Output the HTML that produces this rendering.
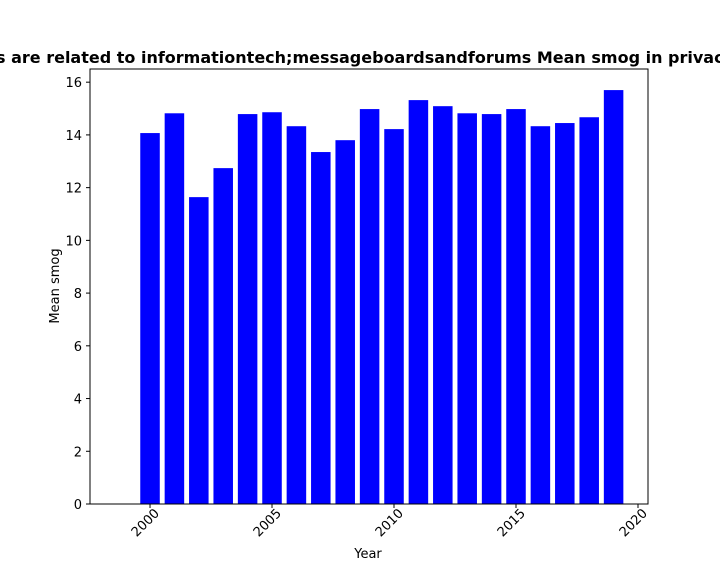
<!DOCTYPE html>
<html><head><meta charset="utf-8"><style>
html,body{margin:0;padding:0;background:#fff;width:720px;height:576px;overflow:hidden}
svg text{font-family:"DejaVu Sans","Liberation Sans",sans-serif;fill:#000}
</style></head><body>
<svg id="chart" width="720" height="576" xmlns="http://www.w3.org/2000/svg">
<text x="-4" y="63" font-size="16" font-weight="bold">s are related to informationtech;messageboardsandforums Mean smog in privac</text>
<g id="bars"></g>
<rect x="90" y="69" width="558" height="435" fill="none" stroke="#000" stroke-width="1"/>
<g id="axes"></g>
<text x="368" y="558" font-size="13" text-anchor="middle">Year</text>
<text transform="translate(59,286) rotate(-90)" font-size="13" text-anchor="middle">Mean smog</text>
</svg>
<script>
const years=[2000,2001,2002,2003,2004,2005,2006,2007,2008,2009,2010,2011,2012,2013,2014,2015,2016,2017,2018,2019];
const values=[14.07,14.82,11.64,12.74,14.79,14.86,14.33,13.35,13.80,14.98,14.22,15.32,15.09,14.82,14.79,14.98,14.33,14.45,14.67,15.70];
const yTicks=[0,2,4,6,8,10,12,14,16];
const xTicks=[2000,2005,2010,2015,2020];
const NS="http://www.w3.org/2000/svg";
const xMin=1997.54,xMax=2020.41,yMin=0,yMax=16.5;
const X=v=>90+(v-xMin)/(xMax-xMin)*558;
const Y=v=>504-(v-yMin)/(yMax-yMin)*435;
const bars=document.getElementById('bars'),axes=document.getElementById('axes');
years.forEach((yr,i)=>{
 const r=document.createElementNS(NS,'rect');
 const x0=X(yr-0.4),x1=X(yr+0.4);
 r.setAttribute('x',x0);r.setAttribute('width',x1-x0);
 r.setAttribute('y',Y(values[i]));r.setAttribute('height',Y(0)-Y(values[i]));
 r.setAttribute('fill','#0000ff');
 
 
 bars.appendChild(r);
});
yTicks.forEach(t=>{
 const y=Y(t);
 const l=document.createElementNS(NS,'line');
 l.setAttribute('x1',86);l.setAttribute('x2',90);l.setAttribute('y1',y);l.setAttribute('y2',y);l.setAttribute('stroke','#000');
 
 
 axes.appendChild(l);
 const tx=document.createElementNS(NS,'text');
 tx.setAttribute('x',82);tx.setAttribute('y',y+5);tx.setAttribute('font-size','13');tx.setAttribute('text-anchor','end');
 tx.textContent=t;
 
 
 axes.appendChild(tx);
});
xTicks.forEach(t=>{
 const x=X(t);
 const l=document.createElementNS(NS,'line');
 l.setAttribute('x1',x);l.setAttribute('x2',x);l.setAttribute('y1',504);l.setAttribute('y2',508);l.setAttribute('stroke','#000');
 
 
 axes.appendChild(l);
 const tx=document.createElementNS(NS,'text');
 tx.setAttribute('transform','translate('+(x+10)+',514) rotate(-45)');
 tx.setAttribute('font-size','13');tx.setAttribute('text-anchor','end');
 tx.textContent=t;
 
 
 axes.appendChild(tx);
});
</script>
</body></html>
